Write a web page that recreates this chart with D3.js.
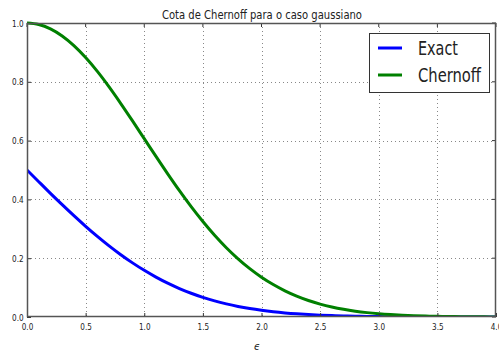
<!DOCTYPE html>
<html><head><meta charset="utf-8">
<script src="https://cdn.jsdelivr.net/npm/d3@7"></script>
<style>body{margin:0;background:#fff}svg{display:block}text{font-family:"DejaVu Sans Condensed","DejaVu Sans",sans-serif;fill:#222}</style>
</head><body>
<svg id="c" width="499" height="358"></svg>
<script>
const eps = [0.0,0.1,0.2,0.3,0.4,0.5,0.6,0.7,0.8,0.9,1.0,1.1,1.2,1.3,1.4,1.5,1.6,1.7,1.8,1.9,2.0,2.1,2.2,2.3,2.4,2.5,2.6,2.7,2.8,2.9,3.0,3.1,3.2,3.3,3.4,3.5,3.6,3.7,3.8,3.9,4.0];
const exact = [0.5,0.4602,0.4207,0.3821,0.3446,0.3085,0.2743,0.2420,0.2119,0.1841,0.1587,0.1357,0.1151,0.0968,0.0808,0.0668,0.0548,0.0446,0.0359,0.0287,0.0228,0.0179,0.0139,0.0107,0.0082,0.0062,0.0047,0.0035,0.0026,0.0019,0.0013,0.0010,0.0007,0.0005,0.0003,0.0002,0.0002,0.0001,0.0001,0.0000,0.0000];
const chernoff = [1.0,0.9950,0.9802,0.9560,0.9231,0.8825,0.8353,0.7827,0.7261,0.6670,0.6065,0.5461,0.4868,0.4296,0.3753,0.3247,0.2780,0.2357,0.1979,0.1645,0.1353,0.1103,0.0889,0.0710,0.0561,0.0439,0.0340,0.0261,0.0198,0.0149,0.0111,0.0082,0.0060,0.0043,0.0031,0.0022,0.0015,0.0011,0.0007,0.0005,0.0003];
const xTicks = [0,0.5,1.0,1.5,2.0,2.5,3.0,3.5,4.0];
const yTicks = [0,0.2,0.4,0.6,0.8,1.0];
const seriesNames = ["Exact","Chernoff"];
const seriesColors = ["#0000ff","#008000"];
const title = "Cota de Chernoff para o caso gaussiano";
const xLabel = "\u03f5";

const svg = d3.select("#c");
const L=27,R=496,T=23,B=317;
const x = d3.scaleLinear().domain([0,4]).range([L,R]);
const y = d3.scaleLinear().domain([0,1]).range([B,T]);

// grid
const g = svg.append("g");
g.selectAll(".gx").data(xTicks.slice(1,-1)).join("line")
 .attr("x1",d=>Math.round(x(d))+0.5).attr("x2",d=>Math.round(x(d))+0.5).attr("y1",T).attr("y2",B)
 .attr("stroke","#888").attr("stroke-width",1).attr("stroke-dasharray","1,3");
g.selectAll(".gy").data(yTicks.slice(1,-1)).join("line")
 .attr("y1",d=>Math.round(y(d))+0.5).attr("y2",d=>Math.round(y(d))+0.5).attr("x1",L).attr("x2",R)
 .attr("stroke","#888").attr("stroke-width",1).attr("stroke-dasharray","1,3");

svg.append("clipPath").attr("id","cp").append("rect").attr("x",L).attr("y",T-2).attr("width",R-L).attr("height",B-T+2);
const line = d3.line().x((d,i)=>x(eps[i])).y(d=>y(d)).curve(d3.curveMonotoneX);
[exact,chernoff].forEach((s,k)=>{
  svg.append("path").datum(s).attr("d",line).attr("fill","none")
   .attr("stroke",seriesColors[k]).attr("stroke-width",3).attr("clip-path","url(#cp)");
});

// axes with inward ticks
const ax = d3.axisBottom(x).tickValues(xTicks).tickFormat(d3.format(".1f")).tickSizeInner(-4).tickSizeOuter(0).tickPadding(5);
const axB = svg.append("g").attr("transform",`translate(0,${B})`).call(ax);
const ay = d3.axisLeft(y).tickValues(yTicks).tickFormat(d3.format(".1f")).tickSizeInner(-4).tickSizeOuter(0).tickPadding(4);
const axL = svg.append("g").attr("transform",`translate(${L},0)`).call(ay);
[axB,axL].forEach(a=>{a.selectAll("text").attr("font-size",9.5).attr("fill","#333").attr("transform","scale(0.85,1)").style("font-family",'"DejaVu Sans Condensed","DejaVu Sans",sans-serif');a.select(".domain").remove();a.selectAll("line").attr("stroke","#333");});
axB.selectAll("text").attr("dy","0.75em").attr("y",6);
// top/right ticks
svg.append("g").selectAll("line").data(xTicks).join("line").attr("x1",d=>x(d)).attr("x2",d=>x(d)).attr("y1",T).attr("y2",T+4).attr("stroke","#333");
svg.append("g").selectAll("line").data(yTicks).join("line").attr("y1",d=>y(d)).attr("y2",d=>y(d)).attr("x1",R).attr("x2",R-4).attr("stroke","#333");
// frame
svg.append("rect").attr("x",L+0.5).attr("y",T+0.5).attr("width",R-L-1).attr("height",B-T-1).attr("fill","none").attr("stroke","#555").attr("stroke-width",1.5);

svg.append("text").attr("x",162).attr("y",19).attr("font-size",12.5).attr("textLength",200).attr("lengthAdjust","spacingAndGlyphs").text(title);
svg.append("text").attr("x",257).attr("y",350).attr("text-anchor","middle").attr("font-size",11).attr("font-style","italic").text(xLabel);

// legend
const lg = svg.append("g");
lg.append("rect").attr("x",369.5).attr("y",33.5).attr("width",120).attr("height",59).attr("fill","#fff").attr("stroke","#333").attr("stroke-width",1);
const legW = [40,63];
seriesNames.forEach((n,k)=>{
  const yy = 48+27*k;
  lg.append("line").attr("x1",378).attr("x2",402).attr("y1",yy).attr("y2",yy).attr("stroke",seriesColors[k]).attr("stroke-width",3);
  lg.append("text").attr("x",418).attr("y",yy+7).attr("font-size",19).attr("textLength",legW[k]).attr("lengthAdjust","spacingAndGlyphs").text(n);
});
</script>
</body></html>
